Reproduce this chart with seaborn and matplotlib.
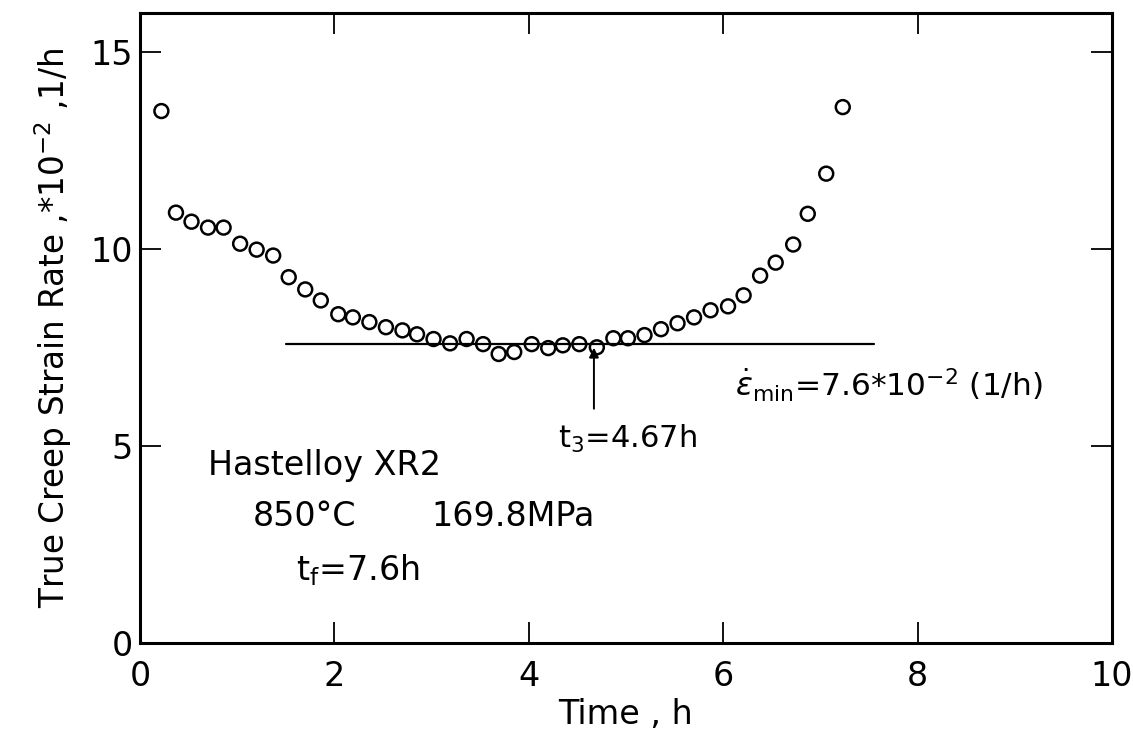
import numpy as np
import pandas as pd
import seaborn as sns
import matplotlib
matplotlib.use("Agg")
import matplotlib.pyplot as plt

# values (time in h, true creep strain rate in 1e-2 1/h)
time_h = [0.22, 0.37, 0.53, 0.70, 0.86, 1.03, 1.20, 1.37, 1.53, 1.70,
          1.86, 2.04, 2.19, 2.36, 2.53, 2.70, 2.85, 3.02, 3.19, 3.36,
          3.53, 3.69, 3.85, 4.03, 4.20, 4.35, 4.52, 4.70, 4.87, 5.02,
          5.19, 5.36, 5.53, 5.70, 5.87, 6.05, 6.21, 6.38, 6.54, 6.72,
          6.87, 7.06, 7.23]
strain_rate = [13.51, 10.93, 10.70, 10.55, 10.55, 10.14, 9.99, 9.84, 9.29, 8.98,
               8.70, 8.35, 8.27, 8.15, 8.02, 7.94, 7.84, 7.72, 7.61, 7.72,
               7.59, 7.34, 7.39, 7.59, 7.49, 7.56, 7.59, 7.51, 7.74, 7.74,
               7.82, 7.97, 8.12, 8.27, 8.45, 8.55, 8.83, 9.33, 9.66, 10.12,
               10.90, 11.92, 13.61]

eps_min = 7.6          # minimum creep rate line
min_line_x = [1.5, 7.55]
t3 = 4.67              # time at minimum rate
x_ticks = [0, 2, 4, 6, 8, 10]
y_ticks = [0, 5, 10, 15]

df = pd.DataFrame({"Time": time_h, "Rate": strain_rate})

sns.set_style("ticks")
plt.rcParams["font.family"] = ["DejaVu Sans"]
plt.rcParams["mathtext.fontset"] = "dejavusans"
plt.rcParams["text.color"] = "black"
plt.rcParams["axes.labelcolor"] = "black"
plt.rcParams["xtick.color"] = "black"
plt.rcParams["ytick.color"] = "black"

fig = plt.figure(figsize=(11.33, 7.37), dpi=100)
ax = fig.add_axes([140 / 1133, 1 - 643 / 737, (1112 - 140) / 1133, (643 - 13) / 737])

sns.scatterplot(x="Time", y="Rate", data=df, ax=ax, marker="o", s=100,
                facecolor="none", edgecolor="black", linewidth=1.8, zorder=3)

ax.plot(min_line_x, [eps_min, eps_min], color="black", lw=1.6, zorder=2)
ax.annotate("", xy=(t3, 7.5), xytext=(t3, 5.95),
            arrowprops=dict(arrowstyle="-|>", color="black", lw=1.4,
                            mutation_scale=14, shrinkA=0, shrinkB=0))

fs = 24
ax.text(6.12, 6.55, r"$\dot{\epsilon}_{\mathrm{min}}$=7.6*10$^{-2}$ (1/h)",
        fontsize=fs - 1.5, va="center", ha="left")
ax.text(4.3, 5.18, r"t$_3$=4.67h", fontsize=fs - 2, va="center", ha="left")
ax.text(0.70, 4.5, "Hastelloy XR2", fontsize=fs, va="center", ha="left")
ax.text(1.16, 3.2, "850°C", fontsize=fs, va="center", ha="left")
ax.text(3.0, 3.2, "169.8MPa", fontsize=fs, va="center", ha="left")
ax.text(1.6, 1.85, r"t$_\mathrm{f}$=7.6h", fontsize=fs, va="center", ha="left")

ax.set_xlim(0, 10)
ax.set_ylim(0, 16)
ax.set_xticks(x_ticks)
ax.set_yticks(y_ticks)
ax.tick_params(direction="in", length=15, width=1.3, top=True, right=True,
               labelsize=fs, color="black", labelcolor="black")
ax.tick_params(axis="x", pad=12)
ax.tick_params(axis="y", pad=5)
for sp in ax.spines.values():
    sp.set_linewidth(2.2)
    sp.set_color("black")

ax.set_xlabel("Time , h", fontsize=fs, labelpad=4)
ax.set_ylabel(r"True Creep Strain Rate ,*10$^{-2}$ ,1/h", fontsize=fs - 0.5, labelpad=12)

fig.savefig("out.png", dpi=100)
